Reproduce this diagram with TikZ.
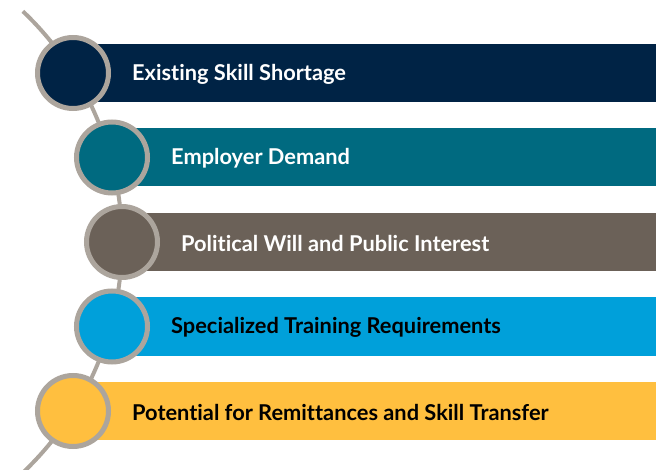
\documentclass[tikz,border=0pt]{standalone}
\usepackage{fontspec}
\setmainfont{Lato}[Ligatures=NoCommon]
\usetikzlibrary{positioning}

\definecolor{navy}{HTML}{002345}
\definecolor{teal}{HTML}{006A80}
\definecolor{taupe}{HTML}{6B6158}
\definecolor{sky}{HTML}{00A0DA}
\definecolor{gold}{HTML}{FFBF3F}
\definecolor{ring}{HTML}{ACA59D}

\tikzset{
  bar/.style={fill=#1,draw=none,anchor=west,minimum height=58pt,inner sep=0pt},
  dot/.style={circle,fill=#1,draw=ring,line width=5pt,minimum size=71pt,inner sep=0pt},
  tag/.style={anchor=west,inner sep=0pt,yshift=-1pt,font=\bfseries\fontsize{21.8}{26}\selectfont}
}

\begin{document}
\begin{tikzpicture}[x=1pt,y=-1pt]
\useasboundingbox (0,0) rectangle (656,470);
% track behind the circles
\draw[ring,line width=4pt] (-196,242) ++(-46.5:318) arc[start angle=-46.5,end angle=46.5,radius=318];
\foreach \c/\t/\x/\i [count=\n] in
     {navy/white/73/Existing Skill Shortage,
      teal/white/112/Employer Demand,
      taupe/white/122/Political Will and Public Interest,
      sky/black/112/Specialized Training Requirements,
      gold/black/73/Potential for Remittances and Skill Transfer}
  {
  \pgfmathsetmacro{\y}{73+84.5*(\n-1)}
  \pgfmathsetmacro{\w}{656-\x}
  \node[bar=\c,minimum width=\w pt] (b\n) at (\x,\y) {};
  \node[dot=\c] (c\n) at (\x,\y) {};
  \node[tag,text=\t,right=59pt of b\n.west] (t\n) {\i};
  }
\end{tikzpicture}
\end{document}
